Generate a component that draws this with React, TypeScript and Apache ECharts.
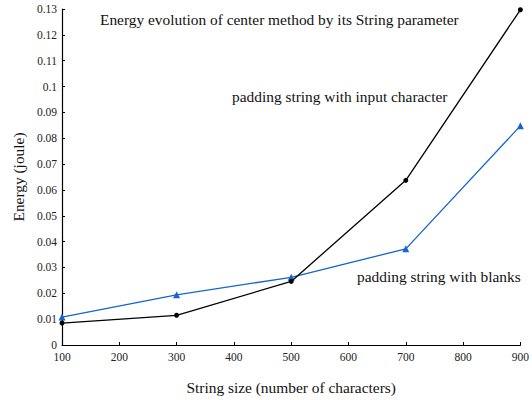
import React, { useEffect, useRef } from "react";
import * as echarts from "echarts";

const stringSizes = [100, 300, 500, 700, 900];
const inputCharEnergy = [0.0085, 0.0115, 0.0246, 0.0637, 0.1297];
const blanksEnergy = [0.0108, 0.0194, 0.0262, 0.0372, 0.0848];

const titleText = "Energy evolution of center method by its String parameter";
const inputLabel = "padding string with input character";
const blanksLabel = "padding string with blanks";
const xName = "String size (number of characters)";
const yName = "Energy (joule)";

const FONT = "'Liberation Serif', 'DejaVu Serif', serif";
const BIG = 15.4;

export default function App() {
  const ref = useRef<HTMLDivElement>(null);
  useEffect(() => {
    if (!ref.current) return;
    const chart = echarts.init(ref.current, undefined, { renderer: "svg" });
    const axisCommon = {
      axisLine: { show: true, lineStyle: { color: "#000", width: 1.2 } },
      axisTick: { show: true, inside: true, length: 3, lineStyle: { color: "#000" } },
      splitLine: { show: false },
      axisLabel: { color: "#222", fontFamily: FONT, fontSize: 11.5 },
    };
    chart.setOption({
      animation: false,
      backgroundColor: "#fff",
      grid: { left: 62, right: 11, top: 9, bottom: 53, containLabel: false },
      title: {
        text: titleText,
        left: 95,
        top: 7,
        textStyle: { fontFamily: FONT, fontSize: BIG, fontWeight: "normal", color: "#111" },
      },
      xAxis: {
        type: "value",
        min: 100,
        max: 900,
        interval: 100,
        name: xName,
        nameLocation: "middle",
        nameGap: 35,
        nameTextStyle: { fontFamily: FONT, fontSize: BIG, color: "#111" },
        ...axisCommon,
        axisLabel: { ...axisCommon.axisLabel, margin: 6 },
      },
      yAxis: {
        type: "value",
        min: 0,
        max: 0.13,
        interval: 0.01,
        name: yName,
        nameLocation: "middle",
        nameGap: 35,
        nameRotate: 90,
        nameTextStyle: { fontFamily: FONT, fontSize: BIG, color: "#111" },
        ...axisCommon,
        axisLabel: { ...axisCommon.axisLabel, margin: 5 },
      },
      graphic: [
        {
          type: "text",
          left: 232,
          top: 89,
          style: { text: inputLabel, fontFamily: FONT, fontSize: BIG, fill: "#111" },
        },
        {
          type: "text",
          left: 357,
          top: 269,
          style: { text: blanksLabel, fontFamily: FONT, fontSize: BIG, fill: "#111" },
        },
      ],
      series: [
        {
          type: "line",
          data: stringSizes.map((x, i) => [x, inputCharEnergy[i]]),
          symbol: "circle",
          symbolSize: 5,
          lineStyle: { color: "#000", width: 1.3 },
          itemStyle: { color: "#000" },
          z: 3,
        },
        {
          type: "line",
          data: stringSizes.map((x, i) => [x, blanksEnergy[i]]),
          symbol: "triangle",
          symbolSize: 7,
          lineStyle: { color: "#1565d0", width: 1.3 },
          itemStyle: { color: "#1565d0" },
          z: 2,
        },
      ],
    });
    return () => chart.dispose();
  }, []);
  return <div ref={ref} style={{ width: 532, height: 400, position: "absolute", left: 0, top: 0 }} />;
}
